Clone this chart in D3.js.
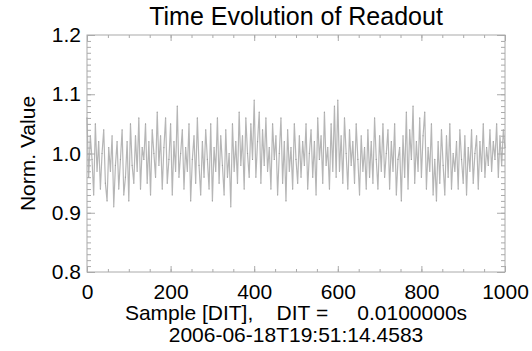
<!DOCTYPE html>
<html>
<head>
<meta charset="utf-8">
<script src="https://cdn.jsdelivr.net/npm/d3@7"></script>
<style>
  body { margin: 0; background: #fff; }
  svg { display: block; }
  text { font-family: "Liberation Sans", Arial, Helvetica, sans-serif; fill: #000; }
</style>
</head>
<body>
<div id="chart"></div>
<script>
// readout, normalised, one value every 4 samples
var sampleStep = 4;
var readout = [
  1.06, 0.96, 1.03, 0.99, 0.93, 1.05, 0.97, 1.02, 0.94, 1.00,
  1.04, 0.95, 0.92, 1.01, 0.97, 1.03, 0.91, 0.98, 1.02, 0.94,
  0.99, 1.04, 0.93, 0.96, 1.02, 0.92, 1.05, 0.98, 0.95, 1.03,
  0.97, 1.06, 0.94, 1.01, 0.99, 1.05, 0.95, 1.02, 0.93, 1.04,
  1.00, 0.96, 1.07, 0.98, 1.03, 0.94, 1.01, 1.06, 0.95, 0.99,
  1.05, 0.93, 1.02, 0.97, 1.08, 0.96, 1.00, 1.04, 0.94, 1.01,
  0.97, 1.05, 0.92, 0.99, 1.03, 0.95, 1.06, 0.98, 0.93, 1.02,
  0.96, 1.04, 0.99, 0.94, 1.05, 0.92, 1.01, 0.97, 1.06, 0.95,
  1.03, 0.98, 0.93, 1.04, 0.96, 1.00, 0.91, 1.05, 0.97, 1.02,
  0.95, 1.07, 0.98, 1.03, 0.94, 1.06, 1.00, 0.96, 1.05, 0.99,
  1.09, 0.96, 1.02, 1.07, 0.95, 1.04, 0.98, 1.06, 0.97, 1.01,
  0.94, 1.05, 0.99, 1.03, 0.93, 1.00, 1.06, 0.95, 1.02, 0.92,
  1.04, 0.97, 1.01, 0.94, 1.05, 0.99, 0.95, 1.03, 0.96, 1.02,
  0.98, 1.05, 0.94, 1.00, 1.04, 0.96, 1.02, 0.93, 1.06, 0.99,
  1.03, 0.95, 1.07, 0.98, 1.01, 0.94, 1.05, 0.97, 1.08, 0.96,
  1.09, 0.97, 1.03, 0.95, 1.06, 1.00, 0.94, 1.04, 0.98, 1.02,
  0.95, 1.05, 0.99, 0.93, 1.03, 0.97, 1.01, 0.94, 1.04, 0.96,
  1.02, 0.95, 1.06, 0.99, 0.94, 1.03, 0.97, 1.05, 0.96, 1.00,
  1.04, 0.94, 1.02, 0.97, 1.05, 0.93, 0.99, 1.01, 0.92, 1.03,
  0.96, 1.07, 0.94, 1.04, 0.99, 1.08, 0.95, 1.02, 0.97, 1.06,
  0.96, 1.03, 1.07, 0.94, 1.01, 0.97, 1.05, 0.93, 0.99, 0.92,
  1.02, 0.95, 1.04, 0.98, 0.93, 1.03, 0.96, 1.05, 0.94, 1.00,
  0.97, 1.02, 0.94, 1.04, 0.99, 0.95, 1.03, 0.93, 1.01, 0.97,
  1.04, 0.95, 1.00, 1.03, 0.94, 1.02, 0.97, 1.05, 0.96, 1.01,
  0.98, 1.04, 0.97, 1.02, 0.99, 1.05, 0.96, 1.03, 0.98, 1.04,
  1.01
];
var xTicks = [0, 200, 400, 600, 800, 1000];
var xMinorTicks = d3.range(0, 1001, 50);
var yTicks = [0.8, 0.9, 1.0, 1.1, 1.2];
var yMinorTicks = d3.range(80, 121).map(function (d) { return d / 100; });
var title = "Time Evolution of Readout";
var xLabel = "Sample [DIT],    DIT =     0.0100000s";
var xLabel2 = "2006-06-18T19:51:14.4583";
var yLabel = "Norm. Value";

var width = 532, height = 351;
var margin = { left: 87, right: 27, top: 35, bottom: 79 };
var w = width - margin.left - margin.right;
var h = height - margin.top - margin.bottom;
var frameColor = '#aaa';

var svg = d3.select('#chart').append('svg')
    .attr('width', width)
    .attr('height', height);
var g = svg.append('g')
    .attr('transform', 'translate(' + margin.left + ',' + margin.top + ')');

var xScale = d3.scaleLinear().domain([0, 1000]).range([0, w]);
var yScale = d3.scaleLinear().domain([0.8, 1.2]).range([h, 0]);

// data
var line = d3.line()
    .x(function (d, i) { return xScale(i * sampleStep); })
    .y(function (d) { return yScale(d); });
g.append('path')
    .datum(readout)
    .attr('fill', 'none')
    .attr('stroke', '#b6b6b6')
    .attr('stroke-width', 1.2)
    .attr('d', line);
g.append('g').selectAll('circle')
    .data(readout)
    .enter().append('circle')
    .attr('cx', function (d, i) { return xScale(i * sampleStep); })
    .attr('cy', function (d) { return yScale(d); })
    .attr('r', 0.6)
    .attr('fill', '#999');

// inward tick marks on all four sides
function ticks(axis, values, size, transform) {
    var a = g.append('g')
        .attr('transform', transform)
        .call(axis.tickValues(values).tickSize(size).tickFormat(''));
    a.select('.domain').remove();
    a.selectAll('.tick line').attr('stroke', frameColor);
}
ticks(d3.axisBottom(xScale), xMinorTicks, -3, 'translate(0,' + h + ')');
ticks(d3.axisBottom(xScale), xTicks, -6, 'translate(0,' + h + ')');
ticks(d3.axisTop(xScale), xMinorTicks, -3, 'translate(0,0)');
ticks(d3.axisTop(xScale), xTicks, -6, 'translate(0,0)');
ticks(d3.axisLeft(yScale), yMinorTicks, -4, 'translate(0,0)');
ticks(d3.axisLeft(yScale), yTicks, -8, 'translate(0,0)');
ticks(d3.axisRight(yScale), yMinorTicks, -4, 'translate(' + w + ',0)');
ticks(d3.axisRight(yScale), yTicks, -8, 'translate(' + w + ',0)');

g.append('rect')
    .attr('width', w)
    .attr('height', h)
    .attr('fill', 'none')
    .attr('stroke', frameColor);

// labels
var xAxis = g.append('g')
    .attr('transform', 'translate(0,' + h + ')')
    .call(d3.axisBottom(xScale).tickValues(xTicks).tickSize(0).tickPadding(12).tickFormat(d3.format('d')));
xAxis.select('.domain').remove();
xAxis.selectAll('text').attr('font-size', 21).attr('font-family', null);

var yAxis = g.append('g')
    .call(d3.axisLeft(yScale).tickValues(yTicks).tickSize(0).tickPadding(6).tickFormat(d3.format('.1f')));
yAxis.select('.domain').remove();
yAxis.selectAll('text').attr('font-size', 21).attr('font-family', null);

svg.append('text')
    .attr('x', margin.left + w / 2)
    .attr('y', 25)
    .attr('text-anchor', 'middle')
    .attr('font-size', 25)
    .text(title);

svg.append('text')
    .attr('x', margin.left + w / 2)
    .attr('y', 320)
    .attr('text-anchor', 'middle')
    .attr('font-size', 21)
    .style('white-space', 'pre')
    .text(xLabel);

svg.append('text')
    .attr('x', margin.left + w / 2)
    .attr('y', 342)
    .attr('text-anchor', 'middle')
    .attr('font-size', 21)
    .text(xLabel2);

svg.append('text')
    .attr('transform', 'translate(35,' + (margin.top + h / 2) + ') rotate(-90)')
    .attr('text-anchor', 'middle')
    .attr('font-size', 21)
    .text(yLabel);
</script>
</body>
</html>
